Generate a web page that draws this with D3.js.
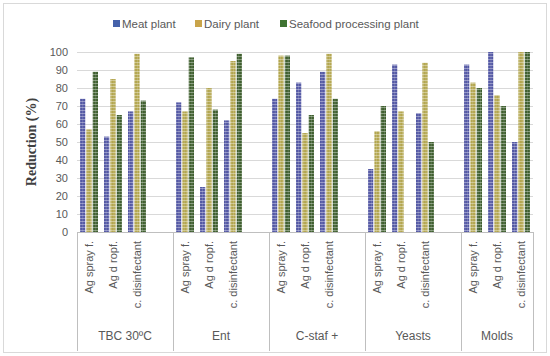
<!DOCTYPE html>
<html><head><meta charset="utf-8">
<script src="https://cdn.jsdelivr.net/npm/d3@7"></script>
<style>html,body{margin:0;padding:0;background:#fff;}svg{display:block;}</style>
</head><body><svg id="c" width="550" height="356"></svg>
<script>
const groups = ["TBC 30ºC", "Ent", "C-staf +", "Yeasts", "Molds"];
const treatments = ["Ag spray f.", "Ag d ropf.", "c. disinfectant"];
const seriesNames = ["Meat plant", "Dairy plant", "Seafood processing  plant"];
const meat    = [74, 53, 67,  72, 25, 62,  74, 83, 89,  35, 93, 66,  93, 100, 50];
const dairy   = [57, 85, 99,  67, 80, 95,  98, 55, 99,  56, 67, 94,  83, 76, 100];
const seafood = [89, 65, 73,  97, 68, 99,  98, 65, 74,  70, 0, 50,  80, 70, 100];
const yTicks = [0,10,20,30,40,50,60,70,80,90,100];

const series = [meat, dairy, seafood];
const colors = ["#5358a4", "#b3a64f", "#3f5f2f"];
const legendColors = ["#4562aa", "#c9a44a", "#3f7331"];

const svg = d3.select("#c");
const L = 77, R = 533, T = 52, B = 232;

// outer border
svg.append("rect").attr("x",3.5).attr("y",3.5).attr("width",543).attr("height",349)
  .attr("fill","#fff").attr("stroke","#d9d9d9").attr("stroke-width",1);

// patterns
const defs = svg.append("defs");
colors.forEach((c,i)=>{
  const p = defs.append("pattern").attr("id","pat"+i).attr("patternUnits","userSpaceOnUse")
    .attr("width",2.6).attr("height",3);
  p.append("rect").attr("width",2.6).attr("height",3).attr("fill",c);
  p.append("rect").attr("y",2.2).attr("width",2.6).attr("height",0.8).attr("fill","#fff").attr("opacity",0.45);
  p.append("rect").attr("x",2.0).attr("width",0.6).attr("height",3).attr("fill","#fff").attr("opacity",0.25);
});

// slots: 4 per group (3 categories + a blank), last group without blank
const slots = [];
groups.forEach((g,gi)=>{
  treatments.forEach((t,ti)=>slots.push({key:g+"|"+t, g:gi, t:ti, idx:gi*3+ti}));
  if (gi < groups.length-1) slots.push({key:g+"|blank", blank:true});
});
const x = d3.scaleBand().domain(slots.map(s=>s.key)).range([L,R]).padding(0);
const xs = d3.scaleBand().domain([0,1,2]).range([3, x.bandwidth()-3]).paddingInner(0.17);
const y = d3.scaleLinear().domain([0,100]).range([B,T]);

// gridlines
svg.append("g").selectAll("line").data(yTicks.filter(d=>d>0)).join("line")
  .attr("x1",L).attr("x2",R).attr("y1",d=>y(d)+0.5).attr("y2",d=>y(d)+0.5)
  .attr("stroke","#d9d9d9").attr("stroke-width",1);

// y axis labels
const yAxis = d3.axisLeft(y).tickValues(yTicks).tickSize(0).tickPadding(0);
const gy = svg.append("g").attr("transform",`translate(${L-9},0)`).call(yAxis);
gy.select(".domain").remove();
gy.selectAll("text").attr("fill","#595959").style("font-family","'Liberation Sans', Arial, sans-serif").style("font-size","11px");

// bars
const cats = slots.filter(s=>!s.blank);
series.forEach((vals,si)=>{
  svg.append("g").selectAll("rect").data(cats).join("rect")
    .attr("x",d=>x(d.key)+xs(si))
    .attr("width",xs.bandwidth())
    .attr("y",d=>y(vals[d.idx]))
    .attr("height",d=>B-y(vals[d.idx]))
    .attr("fill","url(#pat"+si+")");
});

// category axis line
svg.append("line").attr("x1",L).attr("x2",R).attr("y1",B+0.5).attr("y2",B+0.5)
  .attr("stroke","#bfbfbf").attr("stroke-width",1);

// group separators
const bounds = [];
groups.forEach((g,gi)=>bounds.push(x(g+"|"+treatments[0])));
bounds.push(R);
svg.append("g").selectAll("line").data(bounds).join("line")
  .attr("x1",d=>Math.round(d)+0.5).attr("x2",d=>Math.round(d)+0.5)
  .attr("y1",B).attr("y2",351)
  .attr("stroke","#bfbfbf").attr("stroke-width",1);

// category labels (rotated)
svg.append("g").selectAll("text").data(cats).join("text")
  .attr("transform",d=>`translate(${x(d.key)+x.bandwidth()/2+4},${B+9}) rotate(-90)`)
  .attr("text-anchor","end")
  .attr("fill","#595959")
  .style("font-family","'Liberation Sans', Arial, sans-serif").style("font-size","11px")
  .text(d=>treatments[d.t]);

// group labels
svg.append("g").selectAll("text").data(groups).join("text")
  .attr("x",(g,gi)=>(bounds[gi]+bounds[gi+1])/2)
  .attr("y",340)
  .attr("text-anchor","middle")
  .attr("fill","#595959")
  .style("font-family","'Liberation Sans', Arial, sans-serif").style("font-size","12px")
  .text(d=>d);

// y title
svg.append("text").attr("transform",`translate(36,${(T+B)/2}) rotate(-90)`)
  .attr("text-anchor","middle").attr("fill","#404040")
  .style("font-family","'Liberation Serif', 'DejaVu Serif', serif").style("font-size","14px").style("font-weight","bold")
  .text("Reduction (%)");

// legend
const legX = [113, 195, 280];
const lg = svg.append("g");
seriesNames.forEach((n,i)=>{
  lg.append("rect").attr("x",legX[i]).attr("y",20).attr("width",7).attr("height",7).attr("fill",legendColors[i]);
  lg.append("text").attr("x",legX[i]+9).attr("y",27.5).attr("fill","#595959")
    .style("font-family","'Liberation Sans', Arial, sans-serif").style("font-size","11.5px").text(n);
});
</script></body></html>
